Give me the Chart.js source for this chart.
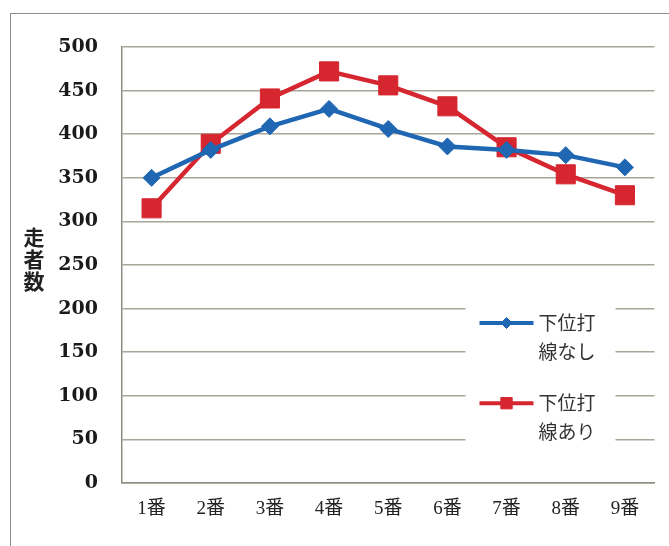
<!DOCTYPE html>
<html>
<head>
<meta charset="utf-8">
<script src="https://cdn.jsdelivr.net/npm/chart.js@4"></script>
<style>
  html, body { margin: 0; padding: 0; background: #fff; overflow: hidden; }
  #wrap { position: relative; width: 669px; height: 546px; }
  #frame { position: absolute; left: 10px; top: 13px; width: 700px; height: 600px;
           border-left: 1.5px solid #8e8c84; border-top: 1.5px solid #8e8c84; }
  canvas { position: absolute; left: 0; top: 0; }
</style>
</head>
<body>
<div id="wrap">
  <div id="frame"></div>
  <canvas id="c" width="669" height="546"></canvas>
</div>
<script>
const categories = ['1番', '2番', '3番', '4番', '5番', '6番', '7番', '8番', '9番'];
const seriesNames = [['下位打', '線なし'], ['下位打', '線あり']];
const withoutLower = [350, 382, 409, 429, 406, 386, 382, 376, 362];
const withLower = [315, 389, 441, 472, 456, 432, 385, 354, 330];
const yTicks = [0, 50, 100, 150, 200, 250, 300, 350, 400, 450, 500];
const yTitle = ['走', '者', '数'];

const BLUE = '#1f66b3';
const RED = '#d6262f';
const GRID = '#a9a699';

const titlePlugin = {
  id: 'stackedTitle',
  afterDraw(chart) {
    const ctx = chart.ctx;
    const a = chart.chartArea;
    ctx.save();
    ctx.font = 'bold 21px "Noto Sans CJK JP"';
    ctx.fillStyle = '#222';
    ctx.textAlign = 'center';
    ctx.textBaseline = 'middle';
    const cx = 34;
    const cy = (a.top + a.bottom) / 2 - 6;
    const lh = 22;
    yTitle.forEach((ch, i) => {
      ctx.fillText(ch, cx, cy + (i - (yTitle.length - 1) / 2) * lh);
    });
    ctx.restore();
  }
};

const legendPlugin = {
  id: 'innerLegend',
  afterDraw(chart) {
    const ctx = chart.ctx;
    const a = chart.chartArea;
    const h = a.bottom - a.top;
    const boxL = a.right - 189, boxR = a.right - 39;
    const boxT = a.top + h * 0.565, boxB = a.top + h * 0.93;
    ctx.save();
    ctx.fillStyle = '#fff';
    ctx.fillRect(boxL, boxT, boxR - boxL, boxB - boxT);
    const rows = [0.633, 0.817];
    chart.data.datasets.forEach((ds, i) => {
      const y = a.top + h * rows[i];
      const x0 = a.right - 175, x1 = a.right - 121;
      ctx.strokeStyle = ds.borderColor;
      ctx.lineWidth = 4;
      ctx.beginPath();
      ctx.moveTo(x0, y);
      ctx.lineTo(x1, y);
      ctx.stroke();
      ctx.fillStyle = ds.borderColor;
      ctx.strokeStyle = ds.borderColor;
      ctx.lineWidth = 1;
      Chart.helpers.drawPoint(ctx, {
        pointStyle: ds.pointStyle,
        radius: i === 0 ? 5.5 : 8,
        borderWidth: 1,
        rotation: 0
      }, (x0 + x1) / 2, y);
      ctx.fillStyle = '#333';
      ctx.font = '19px "Noto Sans CJK JP"';
      ctx.textAlign = 'left';
      ctx.textBaseline = 'middle';
      const lines = seriesNames[i];
      lines.forEach((t, j) => ctx.fillText(t, x1 + 5, y + j * 29));
    });
    ctx.restore();
  }
};

new Chart(document.getElementById('c'), {
  type: 'line',
  data: {
    labels: categories,
    datasets: [
      {
        label: seriesNames[0].join(''),
        data: withoutLower,
        borderColor: BLUE,
        backgroundColor: BLUE,
        borderWidth: 4.5,
        pointStyle: 'rectRot',
        pointRadius: 8.5,
        pointBorderWidth: 1,
        pointBackgroundColor: BLUE,
        pointBorderColor: BLUE,
        tension: 0
      },
      {
        label: seriesNames[1].join(''),
        data: withLower,
        borderColor: RED,
        backgroundColor: RED,
        borderWidth: 4.5,
        pointStyle: 'rect',
        pointRadius: 13.5,
        pointBorderWidth: 1,
        pointBackgroundColor: RED,
        pointBorderColor: RED,
        tension: 0
      }
    ]
  },
  options: {
    responsive: false,
    animation: false,
    events: [],
    layout: { padding: { left: 0, right: 14, top: 47, bottom: 0 } },
    plugins: {
      legend: { display: false },
      tooltip: { enabled: false }
    },
    scales: {
      x: {
        offset: true,
        grid: { display: false, drawTicks: false, offset: true },
        border: { display: true, color: '#8e8b80', width: 1.5 },
        ticks: {
          padding: 15,
          color: '#222',
          font: { family: '"Liberation Serif", "Noto Sans CJK JP"', size: 19 }
        },
        afterFit(s) { s.height = 63; }
      },
      y: {
        min: 0,
        max: 500,
        afterBuildTicks(s) { s.ticks = yTicks.map(v => ({ value: v })); },
        grid: { color: GRID, lineWidth: 1.5, drawTicks: false },
        border: { display: true, color: '#8e8b80', width: 1.5 },
        ticks: {
          padding: 24,
          color: '#1a1a1a',
          font: { family: '"DejaVu Serif"', size: 19, weight: 'bold' }
        },
        afterFit(s) { s.width = 122; }
      }
    }
  },
  plugins: [titlePlugin, legendPlugin]
});
</script>
</body>
</html>
